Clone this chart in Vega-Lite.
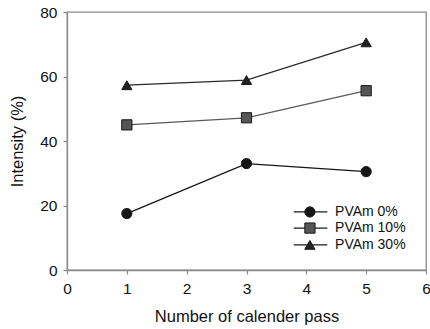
{
  "$schema": "https://vega.github.io/schema/vega-lite/v6.json",
  "width": 359,
  "height": 258,
  "autosize": "none",
  "padding": {"left": 67, "top": 12, "right": 4, "bottom": 59},
  "background": "white",
  "config": {
    "font": "Liberation Sans",
    "view": {"stroke": "#8a8a8a", "strokeWidth": 1.3},
    "axis": {
      "domainColor": "#8a8a8a",
      "domainWidth": 1.3,
      "tickColor": "#8a8a8a",
      "tickWidth": 1.2,
      "tickSize": 4,
      "grid": false,
      "labelFont": "Liberation Sans",
      "labelFontSize": 15.5,
      "labelColor": "#111",
      "titleFont": "Liberation Sans",
      "titleFontSize": 16.5,
      "titleFontWeight": "normal",
      "titleColor": "#111"
    }
  },
  "data": {
    "values": [
      {"pass": 1, "intensity": 17.5, "series": "PVAm 0%"},
      {"pass": 3, "intensity": 33.0, "series": "PVAm 0%"},
      {"pass": 5, "intensity": 30.5, "series": "PVAm 0%"},
      {"pass": 1, "intensity": 45.0, "series": "PVAm 10%"},
      {"pass": 3, "intensity": 47.2, "series": "PVAm 10%"},
      {"pass": 5, "intensity": 55.6, "series": "PVAm 10%"},
      {"pass": 1, "intensity": 57.3, "series": "PVAm 30%"},
      {"pass": 3, "intensity": 58.9, "series": "PVAm 30%"},
      {"pass": 5, "intensity": 70.6, "series": "PVAm 30%"}
    ]
  },
  "layer": [
    {
      "mark": {"type": "line", "strokeWidth": 1.3},
      "encoding": {
        "x": {
          "field": "pass",
          "type": "quantitative",
          "scale": {"domain": [0, 6], "nice": false},
          "axis": {
            "title": "Number of calender pass",
            "values": [0, 1, 2, 3, 4, 5, 6],
            "format": "d",
            "labelPadding": 7,
            "titlePadding": 12,
            "labelFlush": false
          }
        },
        "y": {
          "field": "intensity",
          "type": "quantitative",
          "scale": {"domain": [0, 80], "nice": false},
          "axis": {
            "title": "Intensity (%)",
            "values": [0, 20, 40, 60, 80],
            "format": "d",
            "labelPadding": 6,
            "titlePadding": 14,
            "labelFlush": false
          }
        },
        "stroke": {
          "field": "series",
          "type": "nominal",
          "scale": {"domain": ["PVAm 0%", "PVAm 10%", "PVAm 30%"], "range": ["#151515", "#5a5a5a", "#2a2a2a"]},
          "legend": null
        }
      }
    },
    {
      "mark": {"type": "point", "filled": true, "size": 105, "opacity": 1, "stroke": "#1a1a1a", "strokeWidth": 1},
      "encoding": {
        "x": {"field": "pass", "type": "quantitative"},
        "y": {"field": "intensity", "type": "quantitative"},
        "shape": {
          "field": "series",
          "type": "nominal",
          "scale": {"domain": ["PVAm 0%", "PVAm 10%", "PVAm 30%"], "range": ["circle", "square", "triangle-up"]},
          "legend": null
        },
        "fill": {
          "field": "series",
          "type": "nominal",
          "scale": {"domain": ["PVAm 0%", "PVAm 10%", "PVAm 30%"], "range": ["#151515", "#555555", "#222222"]},
          "legend": null
        }
      }
    },
    {
      "data": {"values": [{"series": "PVAm 0%"}]},
      "encoding": {"y": {"datum": 18.0, "type": "quantitative"}},
      "layer": [
        {"mark": {"type": "rule", "color": "#1a1a1a", "strokeWidth": 1.3}, "encoding": {"x": {"datum": 3.79, "type": "quantitative"}, "x2": {"datum": 4.35}}},
        {"mark": {"type": "point", "filled": true, "size": 105, "opacity": 1, "stroke": "#1a1a1a", "strokeWidth": 1}, "encoding": {"x": {"datum": 4.06, "type": "quantitative"}, "shape": {"field": "series", "type": "nominal", "legend": null}, "fill": {"field": "series", "type": "nominal", "legend": null}}},
        {"mark": {"type": "text", "align": "left", "baseline": "middle", "font": "Liberation Sans", "fontSize": 14, "color": "#111"}, "encoding": {"x": {"datum": 4.48, "type": "quantitative"}, "text": {"field": "series"}}}
      ]
    },
    {
      "data": {"values": [{"series": "PVAm 10%"}]},
      "encoding": {"y": {"datum": 13.0, "type": "quantitative"}},
      "layer": [
        {"mark": {"type": "rule", "color": "#1a1a1a", "strokeWidth": 1.3}, "encoding": {"x": {"datum": 3.79, "type": "quantitative"}, "x2": {"datum": 4.35}}},
        {"mark": {"type": "point", "filled": true, "size": 105, "opacity": 1, "stroke": "#1a1a1a", "strokeWidth": 1}, "encoding": {"x": {"datum": 4.06, "type": "quantitative"}, "shape": {"field": "series", "type": "nominal", "legend": null}, "fill": {"field": "series", "type": "nominal", "legend": null}}},
        {"mark": {"type": "text", "align": "left", "baseline": "middle", "font": "Liberation Sans", "fontSize": 14, "color": "#111"}, "encoding": {"x": {"datum": 4.48, "type": "quantitative"}, "text": {"field": "series"}}}
      ]
    },
    {
      "data": {"values": [{"series": "PVAm 30%"}]},
      "encoding": {"y": {"datum": 7.8, "type": "quantitative"}},
      "layer": [
        {"mark": {"type": "rule", "color": "#1a1a1a", "strokeWidth": 1.3}, "encoding": {"x": {"datum": 3.79, "type": "quantitative"}, "x2": {"datum": 4.35}}},
        {"mark": {"type": "point", "filled": true, "size": 105, "opacity": 1, "stroke": "#1a1a1a", "strokeWidth": 1}, "encoding": {"x": {"datum": 4.06, "type": "quantitative"}, "shape": {"field": "series", "type": "nominal", "legend": null}, "fill": {"field": "series", "type": "nominal", "legend": null}}},
        {"mark": {"type": "text", "align": "left", "baseline": "middle", "font": "Liberation Sans", "fontSize": 14, "color": "#111"}, "encoding": {"x": {"datum": 4.48, "type": "quantitative"}, "text": {"field": "series"}}}
      ]
    }
  ]
}
